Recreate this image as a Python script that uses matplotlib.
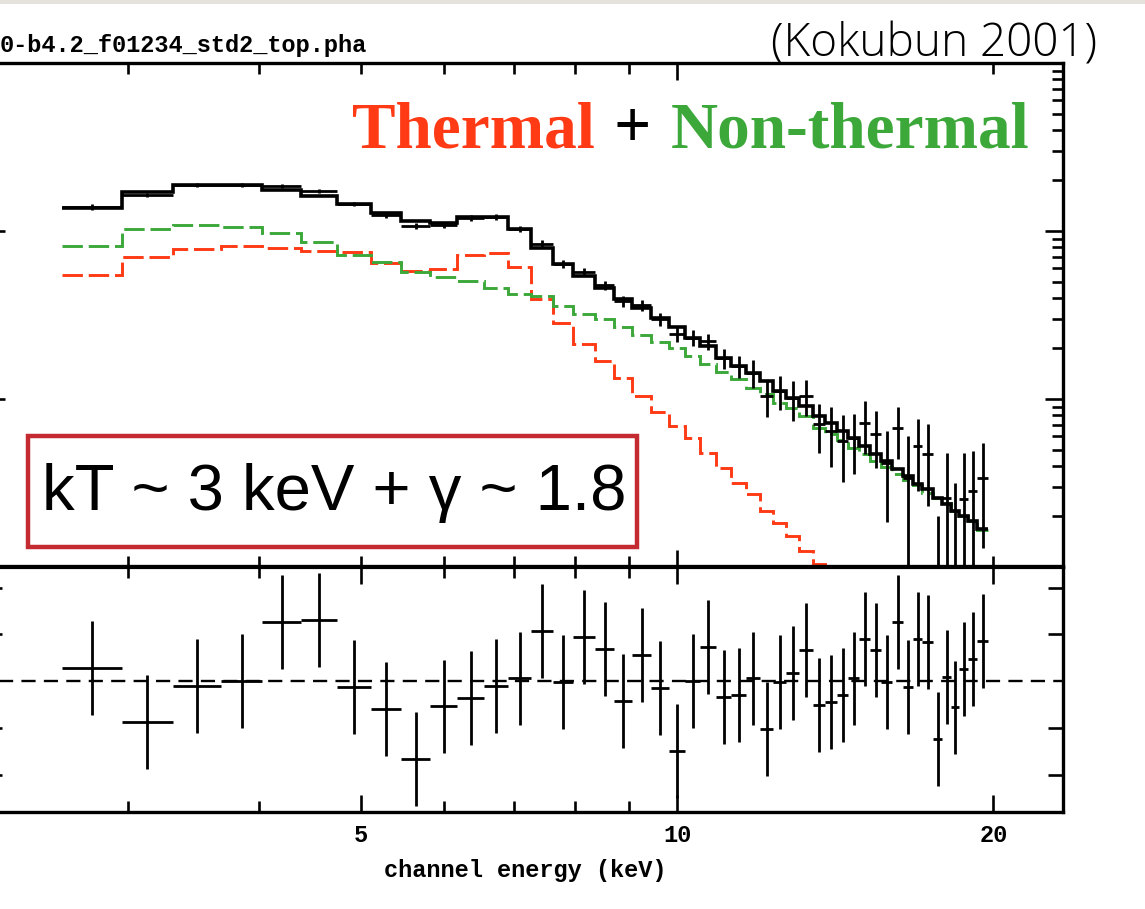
import numpy as np
import matplotlib
matplotlib.use('Agg')
import matplotlib.pyplot as plt
from matplotlib.patches import Rectangle
from matplotlib.ticker import FixedLocator, NullFormatter

# channel bin edges (keV), 47 grouped channels
edges = [2.597, 2.961, 3.311, 3.679, 4.026, 4.385, 4.746, 5.112, 5.459, 5.819,
         6.172, 6.550, 6.902, 7.261, 7.619, 7.962, 8.354, 8.710, 9.060, 9.445,
         9.826, 10.18, 10.52, 10.89, 11.26, 11.63, 11.99, 12.34, 12.70, 13.07,
         13.48, 13.84, 14.21, 14.55, 14.90, 15.27, 15.64, 16.02, 16.41, 16.78,
         17.11, 17.53, 17.88, 18.24, 18.56, 18.93, 19.31, 19.78]

# observed counts (counts/s/keV) and 1-sigma errors
counts = [0.1389, 0.1638, 0.1878, 0.1878, 0.1853, 0.1730, 0.1448, 0.1245, 0.1071, 0.1086,
          0.1195, 0.1211, 0.1028, 0.0837, 0.0636, 0.0570, 0.0477, 0.0383, 0.0363, 0.0299,
          0.0244, 0.0231, 0.0220, 0.0175, 0.0157, 0.0143, 0.0104, 0.0112, 0.0101, 0.0104,
          0.0071, 0.00645, 0.00562, 0.00586, 0.0072, 0.00619, 0.00416, 0.00672, 0.0034, 0.00525,
          0.00471, -0.0004, 0.00257, 0.00096, 0.00254, 0.00283, 0.00339]
count_err = [0.005, 0.005, 0.005, 0.005, 0.0045, 0.0045, 0.004, 0.0045, 0.0045, 0.0045,
             0.0045, 0.0045, 0.0042, 0.0042, 0.0035, 0.0033, 0.0030, 0.0028, 0.0027, 0.0026,
             0.0025, 0.0025, 0.0025, 0.0024, 0.0024, 0.0027, 0.0026, 0.0026, 0.0027, 0.0025,
             0.0023, 0.0025, 0.0024, 0.0023, 0.0025, 0.0023, 0.0023, 0.0023, 0.0026, 0.0024,
             0.0024, 0.0024, 0.0022, 0.0022, 0.0022, 0.0021, 0.0021]

# total model and its two components
model_total = [0.1370, 0.1707, 0.1878, 0.1878, 0.1754, 0.1616, 0.1448, 0.1279, 0.1147, 0.1116,
               0.1211, 0.1211, 0.1028, 0.0792, 0.0636, 0.0540, 0.0458, 0.0394, 0.0348, 0.0303,
               0.0268, 0.0231, 0.0207, 0.0175, 0.0157, 0.0143, 0.0128, 0.0112, 0.0101, 0.00908,
               0.00792, 0.00719, 0.00645, 0.00586, 0.00525, 0.00471, 0.00428, 0.00383, 0.00348, 0.00312,
               0.00291, 0.00258, 0.00237, 0.00216, 0.00201, 0.00188, 0.00168]
model_pl = [0.0814, 0.1028, 0.1086, 0.1056, 0.0973, 0.0860, 0.0720, 0.0654, 0.0570, 0.0532,
            0.0504, 0.0458, 0.0422, 0.0410, 0.0358, 0.0321, 0.0299, 0.0268, 0.0240, 0.0218,
            0.0201, 0.0180, 0.0162, 0.0145, 0.0132, 0.0116, 0.0107, 0.00947, 0.00884, 0.00792,
            0.00672, 0.00619, 0.00570, 0.00511, 0.00471, 0.00428, 0.00394, 0.00358, 0.00330, 0.00308,
            0.00276, 0.00257, 0.00240, 0.00215, 0.00201, 0.00188, 0.00166]
model_th = [0.0547, 0.0700, 0.0781, 0.0814, 0.0792, 0.0760, 0.0750, 0.0645, 0.0578, 0.0594,
            0.0720, 0.0740, 0.0611, 0.0394, 0.0283, 0.0212, 0.01683, 0.01334, 0.01042, 0.00837,
            0.00691, 0.00586, 0.00477, 0.00388, 0.00316, 0.00272, 0.00215, 0.00183, 0.00153, 0.00125,
            0.00104, 0.00085, 0.0007, 0.00058, 0.00047, 0.00039, 0.00032, 0.00026, 0.00021, 0.00017,
            0.00014, 0.00011, 0.00009, 0.00007, 0.00006, 0.00005, 0.00004]

# residuals in units of sigma
delchi = [0.28, -0.88, -0.11, 0.0, 1.26, 1.31, -0.13, -0.60, -1.67, -0.54,
          -0.36, -0.11, 0.06, 1.07, -0.02, 0.94, 0.69, -0.43, 0.56, -0.15,
          -1.50, 0.0, 0.73, -0.34, -0.30, 0.06, -1.03, -0.02, 0.17, 0.66,
          -0.51, -0.45, -0.30, 0.06, 0.90, 0.66, -0.02, 1.26, -0.13, 0.90,
          0.84, -1.24, 0.09, -0.56, 0.26, 0.47, 0.86]
delchi_err = [1.0] * 47

RED = '#ff3a14'
GREEN = '#3ca83a'
BOX = '#c42b30'
MONO = 'Liberation Mono'

W, H = 1145, 909
def rect(x0, y0, x1, y1):
    return [x0 / W, 1 - y1 / H, (x1 - x0) / W, (y1 - y0) / H]

e = np.array(edges)
xc = np.sqrt(e[:-1] * e[1:])
xerr = [xc - e[:-1], e[1:] - xc]

fig = plt.figure(figsize=(W / 100, H / 100), dpi=100)
fig.add_artist(Rectangle((0, 1 - 4 / H), 1, 4 / H, transform=fig.transFigure,
                         color='#e4e2da', lw=0))

ax = fig.add_axes(rect(-13.5, 63, 1063, 567))
ax2 = fig.add_axes(rect(-13.5, 567, 1063, 812))

for a in (ax, ax2):
    a.set_xscale('log')
    a.set_xlim(2.2, 23.3)
    a.xaxis.set_major_locator(FixedLocator([10]))
    a.xaxis.set_minor_locator(FixedLocator([3, 4, 5, 6, 7, 8, 9, 20]))
    a.xaxis.set_minor_formatter(NullFormatter())
    a.tick_params(which='both', direction='in', top=True, right=True, width=1.9,
                  labelleft=False, labelbottom=False)
    a.tick_params(which='major', length=12)
    a.tick_params(which='minor', length=8)
    for s in a.spines.values():
        s.set_linewidth(2.4)
ax.spines['bottom'].set_linewidth(3.0)
ax2.spines['top'].set_linewidth(3.0)

# spectrum panel
ax.set_yscale('log')
ax.set_ylim(1e-3, 1)
ax.tick_params(axis='y', which='major', length=13)
ax.tick_params(axis='y', which='minor', length=8)
ax.yaxis.set_minor_formatter(NullFormatter())

ax.stairs(model_th, edges, baseline=None, color=RED, lw=2.1, linestyle=(0, (7, 2)))
ax.stairs(model_pl, edges, baseline=None, color=GREEN, lw=2.1, linestyle=(0, (7, 2)))
ax.stairs(model_total, edges, baseline=None, color='black', lw=2.6)
ax.errorbar(xc, counts, xerr=xerr, yerr=count_err, fmt='none', ecolor='black',
            elinewidth=2.0, capsize=0)

# residual panel
ax2.set_ylim(-2.8, 2.44)
ax2.yaxis.set_major_locator(FixedLocator([-2, -1, 1, 2]))
ax2.tick_params(axis='y', which='major', length=11)
ax2.axhline(0, color='black', lw=1.7, linestyle=(0, (6, 3.5)))
ax2.errorbar(xc, delchi, xerr=xerr, yerr=delchi_err, fmt='none', ecolor='black',
             elinewidth=2.0, capsize=0)
ax2.xaxis.set_major_locator(FixedLocator([5, 10, 20]))
ax2.xaxis.set_minor_locator(FixedLocator([3, 4, 6, 7, 8, 9]))
ax2.set_xticklabels(['5', '10', '20'], family=MONO, fontweight='bold', fontsize=17)
ax2.tick_params(axis='x', which='major', labelbottom=True, pad=9)
ax2.set_xlabel('channel energy (keV)', family=MONO, fontweight='bold', fontsize=17,
               labelpad=8)

# header texts
fig.text(367 / W, 1 - 52 / H, '0-b4.2_f01234_std2_top.pha', ha='right', va='baseline',
         family=MONO, fontweight='bold', fontsize=17)
fig.text(1097 / W, 1 - 57 / H, '(Kokubun 2001)', ha='right', va='baseline',
         family='Open Sans', fontweight='light', fontsize=33)

fig.text(352 / W, 1 - 147 / H, 'Thermal', ha='left', va='baseline', color=RED,
         family='Liberation Serif', fontweight='bold', fontsize=47)
fig.text(632 / W, 1 - 147 / H, '+', ha='center', va='baseline', color='black',
         family='Liberation Serif', fontweight='bold', fontsize=47)
fig.text(1030 / W, 1 - 147 / H, 'Non-thermal', ha='right', va='baseline', color=GREEN,
         family='Liberation Serif', fontweight='bold', fontsize=47)

fig.add_artist(Rectangle((28 / W, 1 - 547 / H), 609 / W, 111 / H, transform=fig.transFigure,
                         facecolor='white', edgecolor=BOX, lw=3.2, zorder=5))
fig.text(42 / W, 1 - 510 / H, 'kT ~ 3 keV + \u03b3 ~ 1.8', ha='left', va='baseline',
         family='Liberation Sans', fontsize=47, zorder=6)

fig.savefig('out.png', dpi=100)
